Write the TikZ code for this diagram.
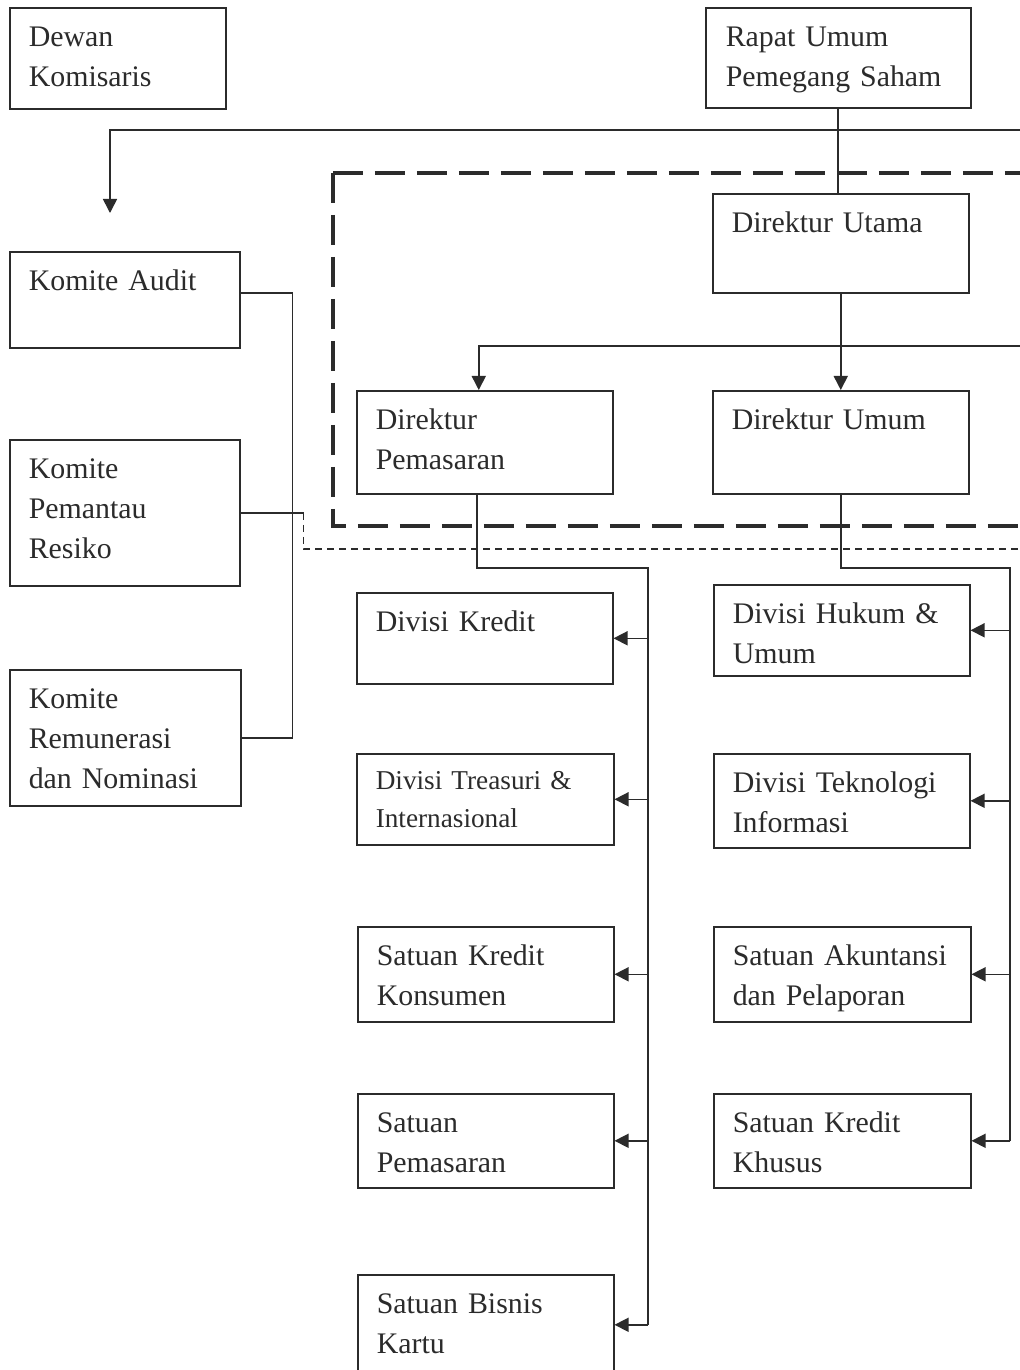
\documentclass[tikz,border=0pt]{standalone}
\usepackage{fontspec}
\setmainfont{Liberation Serif}
\usepackage{xcolor}
\usetikzlibrary{arrows.meta}
\definecolor{ink}{HTML}{2B2B2B}
\tikzset{
  unit/.style={draw=ink, line width=0.9pt, anchor=north west, align=left,
    inner sep=0.38cm, text height=0.4cm, text=ink,
    font=\fontsize{17}{22.8}\selectfont},
  link/.style={draw=ink, line width=0.9pt},
  arr/.style={link, -{Triangle[length=8pt,width=8pt]}},
  board/.style={draw=ink, line width=2pt, dash pattern=on 0.6cm off 0.24cm},
  liaison/.style={draw=ink, line width=0.7pt, dash pattern=on 0.14cm off 0.1cm}
}
\begin{document}
\begin{tikzpicture}[x=0.02cm, y=-0.02cm]
\useasboundingbox[fill=white] (0,0) rectangle (1020,1370);
\node[unit, text width=3.56cm, text depth=0.86cm] (dewan) at (9,7) {Dewan\\Komisaris};
\node[unit, text width=4.5cm, text depth=0.84cm, inner xsep=0.4cm] (rups) at (705,7) {Rapat Umum\\Pemegang Saham};
\node[unit, text width=4.36cm, text depth=0.82cm] (utama) at (712,193) {Direktur Utama};
\node[unit, text width=3.84cm, text depth=0.76cm] (audit) at (9,251) {Komite Audit};
\node[unit, text width=3.84cm, text depth=1.76cm] (pemantau) at (9,439) {Komite\\Pemantau\\Resiko};
\node[unit, text width=3.86cm, text depth=1.56cm] (remun) at (9,669) {Komite\\Remunerasi\\dan Nominasi};
\node[unit, text width=4.36cm, text depth=0.9cm] (dirpem) at (356,390) {Direktur\\Pemasaran};
\node[unit, text width=4.36cm, text depth=0.9cm] (dirum) at (712,390) {Direktur Umum};
\node[unit, text width=4.36cm, text depth=0.66cm] (kredit) at (356,592) {Divisi Kredit};
\node[unit, text width=4.38cm, text depth=0.72cm, text height=0.34cm,
  font=\fontsize{15.5}{21.5}\selectfont] (treasuri) at (356,753) {Divisi Treasuri \&\\Internasional};
\node[unit, text width=4.36cm, text depth=0.74cm] (konsumen) at (357,926) {Satuan Kredit\\Konsumen};
\node[unit, text width=4.36cm, text depth=0.72cm] (satpem) at (357,1093) {Satuan\\Pemasaran};
\node[unit, text width=4.36cm, text depth=0.84cm] (kartu) at (357,1274) {Satuan Bisnis\\Kartu};
\node[unit, text width=4.36cm, text depth=0.66cm] (hukum) at (713,584) {Divisi Hukum \&\\Umum};
\node[unit, text width=4.36cm, text depth=0.72cm] (teknologi) at (713,753) {Divisi Teknologi\\Informasi};
\node[unit, text width=4.38cm, text depth=0.74cm] (akuntansi) at (713,926) {Satuan Akuntansi\\dan Pelaporan};
\node[unit, text width=4.38cm, text depth=0.72cm] (khusus) at (713,1093) {Satuan Kredit\\Khusus};

\draw[board] (333,173) -- (1040,173);
\draw[board] (333,173) -- (333,526) -- (1040,526);

\coordinate (rupsline) at (1040,130);
\coordinate (komtop) at (110,213);
\coordinate (dirline) at (1040,346);
\coordinate (lbus) at (648,568);
\coordinate (rbus) at (1010,568);

\draw[link] (rups.south) -- (rups.south |- utama.north);
\draw[arr] (rupsline) -| (komtop);
\draw[arr] (utama.south) -- (dirum.north);
\draw[arr] (dirline) -| ([xshift=-0.12cm]dirpem.north);

\draw[link] ([yshift=0.14cm]audit.east) -- ++(52,0) coordinate (kbus) |- (remun.east);
\draw[link] (pemantau.east) -- ++(63,0) coordinate (kdot);
\draw[liaison] (kdot) |- (1040,549);

\draw[link] ([xshift=-0.16cm]dirpem.south) |- (lbus) -- (lbus |- kartu.east);
\foreach \n in {kredit,treasuri,konsumen,satpem,kartu}
  \draw[arr] (lbus |- \n.east) -- (\n.east);
\draw[link] (dirum.south) |- (rbus) -- (rbus |- khusus.east);
\foreach \n in {hukum,teknologi,akuntansi,khusus}
  \draw[arr] (rbus |- \n.east) -- (\n.east);
\end{tikzpicture}
\end{document}
